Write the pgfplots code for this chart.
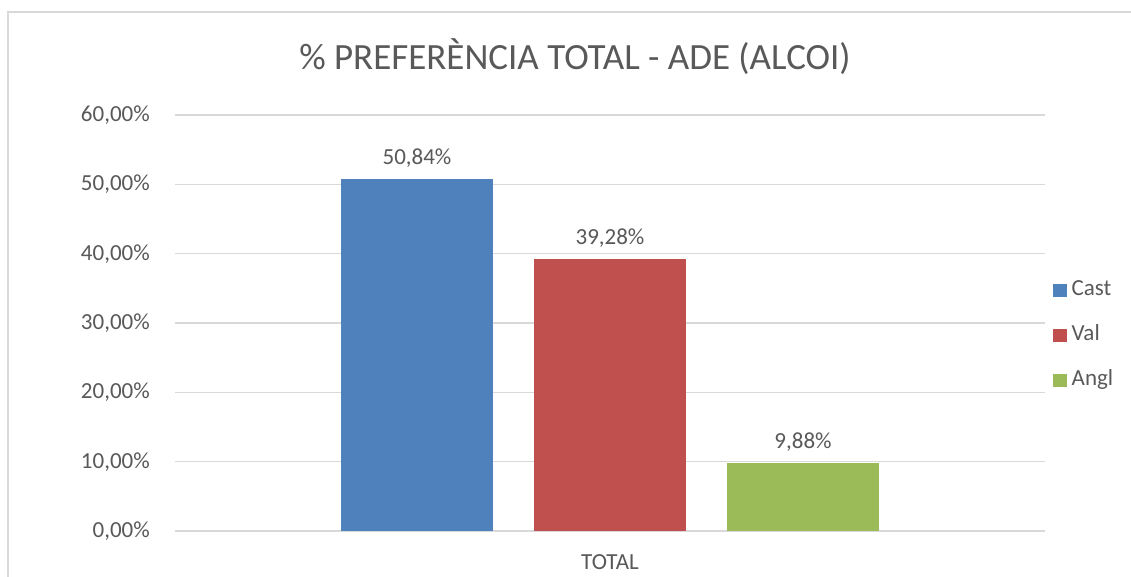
\documentclass[border=0pt]{standalone}
\usepackage{fontspec}
\setmainfont{Carlito}
\usepackage{pgfplots}
\pgfplotsset{compat=1.18}
\definecolor{castblue}{HTML}{4F81BD}
\definecolor{valred}{HTML}{C0504D}
\definecolor{anglgreen}{HTML}{9BBB59}
\definecolor{txtgray}{HTML}{595959}
\definecolor{gridgray}{HTML}{D9D9D9}
\begin{document}
\begin{tikzpicture}
\useasboundingbox (0,0) rectangle (1131pt,576pt);
\clip (0,0) rectangle (1131pt,576pt);
\fill[white] (0,0) rectangle (1131pt,576pt);
% outer chart frame (cut off at the right and bottom)
\draw[gridgray, line width=1.5pt] (8pt,-20pt) rectangle (1160pt,564pt);
\node[txtgray, font=\fontsize{37}{44}\selectfont] at (575pt,519pt) {\% PREFERÈNCIA TOTAL - ADE (ALCOI)};
\begin{axis}[
    at={(175pt,45pt)}, anchor=south west,
    scale only axis,
    width=870pt, height=416pt,
    ybar=41pt,
    bar width=152pt,
    xmin=-1, xmax=1,
    ymin=0, ymax=60,
    xtick={0}, xticklabels={TOTAL},
    ytick={0,10,...,60},
    axis line style={draw=none},
    major tick length=0pt,
    ymajorgrids,
    grid style={gridgray, line width=1.2pt},
    font=\fontsize{23}{27}\selectfont,
    tick label style={txtgray},
    /pgf/number format/assume math mode=true,
    yticklabel={\pgfmathprintnumber[fixed,fixed zerofill,precision=2,use comma]{\tick}\%},
    yticklabel style={anchor=east, inner sep=0pt, xshift=-25pt},
    xticklabel style={anchor=base, inner sep=0pt, yshift=-38.5pt},
    nodes near coords={\pgfmathprintnumber[fixed,fixed zerofill,precision=2,use comma]{\pgfplotspointmeta}\%},
    every node near coord/.append style={txtgray, anchor=base, inner sep=0pt, yshift=14pt},
    legend image code/.code={\path[#1,draw=none] (0pt,-6.5pt) rectangle (13.5pt,6.5pt);},
    legend style={at={(1.0092,0.471)}, anchor=west, draw=none, fill=none,
        text=txtgray, row sep=24pt, inner sep=0pt,
        nodes={inner sep=0pt, text height=16pt, text depth=5pt},
        /tikz/every odd column/.append style={column sep=5pt}},
    legend cell align=left,
]
\addplot[fill=castblue, draw=none] coordinates {(0,50.84)};
\addplot[fill=valred, draw=none] coordinates {(0,39.28)};
\addplot[fill=anglgreen, draw=none] coordinates {(0,9.88)};
\legend{Cast,Val,Angl}
\end{axis}
\end{tikzpicture}
\end{document}
